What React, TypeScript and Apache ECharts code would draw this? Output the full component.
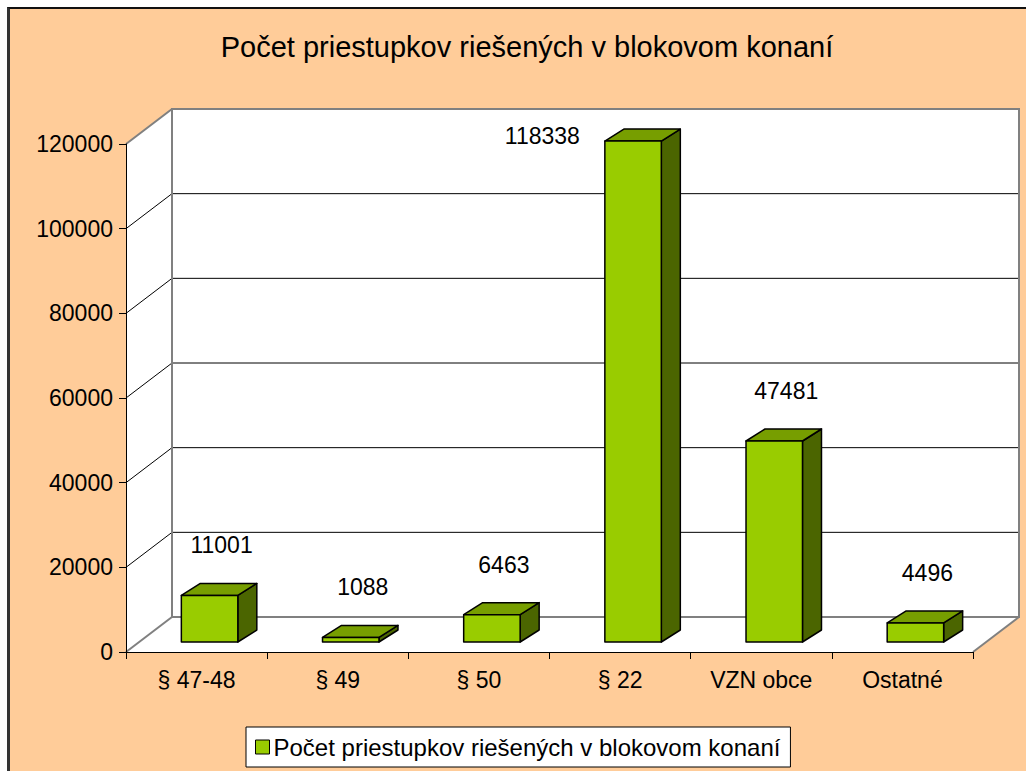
import React, { useEffect, useRef } from "react";
import * as echarts from "echarts";

const categories = ["§ 47-48", "§ 49", "§ 50", "§ 22", "VZN obce", "Ostatné"];
const values = [11001, 1088, 6463, 118338, 47481, 4496];
const yTicks = [0, 20000, 40000, 60000, 80000, 100000, 120000];
const seriesName = "Počet priestupkov riešených v blokovom konaní";
const titleText = "Počet priestupkov riešených v blokovom konaní";

const FONT = "'Liberation Sans', Arial, sans-serif";
// 3D geometry
const WALL_DX = 46;
const WALL_DY = -35;
const BAR_OFF_X = 13;
const BAR_OFF_Y = -10;
const BAR_DX = 19;
const BAR_DY = -12;
const BAR_W = 0.4;
const FRONT = "#99CC00";
const TOP = "#779E00";
const SIDE = "#4B6500";
const GRAY = "#808080";

export default function App() {
  const ref = useRef<HTMLDivElement>(null);
  useEffect(() => {
    if (!ref.current) return;
    const chart = echarts.init(ref.current, null, { renderer: "svg" });
    const yMax = yTicks[yTicks.length - 1];

    const wallsRender = (params: any, api: any) => {
      const cs = params.coordSys;
      const x0 = cs.x;
      const x1 = cs.x + cs.width;
      const yb = api.coord([0, 0])[1];
      const yt = api.coord([0, yMax])[1];
      const children: any[] = [];
      children.push({
        type: "polygon",
        shape: { points: [[x0, yb], [x0, yt], [x0 + WALL_DX, yt + WALL_DY], [x0 + WALL_DX, yb + WALL_DY]] },
        style: { fill: "#fff", stroke: null },
      });
      children.push({
        type: "polygon",
        shape: { points: [[x0, yb], [x1, yb], [x1 + WALL_DX, yb + WALL_DY], [x0 + WALL_DX, yb + WALL_DY]] },
        style: { fill: "#fff", stroke: null },
      });
      children.push({
        type: "rect",
        shape: { x: x0 + WALL_DX, y: yt + WALL_DY, width: x1 - x0, height: yb - yt },
        style: { fill: "#fff", stroke: null },
      });
      yTicks.forEach((t) => {
        if (t === 0 || t === yMax) return;
        const y = api.coord([0, t])[1];
        children.push({
          type: "line",
          shape: { x1: x0 + WALL_DX, y1: y + WALL_DY, x2: x1 + WALL_DX, y2: y + WALL_DY },
          style: { stroke: "#000", lineWidth: 1 },
        });
        children.push({
          type: "line",
          shape: { x1: x0, y1: y, x2: x0 + WALL_DX, y2: y + WALL_DY },
          style: { stroke: "#000", lineWidth: 1 },
        });
      });
      // gray borders
      children.push({
        type: "rect",
        shape: { x: x0 + WALL_DX, y: yt + WALL_DY, width: x1 - x0, height: yb - yt },
        style: { fill: null, stroke: GRAY, lineWidth: 2 },
      });
      children.push({
        type: "line",
        shape: { x1: x0, y1: yt, x2: x0 + WALL_DX, y2: yt + WALL_DY },
        style: { stroke: GRAY, lineWidth: 2 },
      });
      children.push({
        type: "line",
        shape: { x1: x0, y1: yb, x2: x0 + WALL_DX, y2: yb + WALL_DY },
        style: { stroke: GRAY, lineWidth: 2 },
      });
      children.push({
        type: "line",
        shape: { x1: x1, y1: yb, x2: x1 + WALL_DX, y2: yb + WALL_DY },
        style: { stroke: GRAY, lineWidth: 2 },
      });
      return { type: "group", children };
    };

    const barRender = (params: any, api: any) => {
      const idx = api.value(0);
      const v = api.value(1);
      const top = api.coord([idx, v]);
      const base = api.coord([idx, 0]);
      const w = api.size([1, 0])[0] * BAR_W;
      const fx = top[0] - w / 2 + BAR_OFF_X;
      const fyT = top[1] + BAR_OFF_Y;
      const fyB = base[1] + BAR_OFF_Y;
      const wallTop = api.coord([0, yMax])[1] + WALL_DY;
      const lineStyle = { stroke: "#000", lineWidth: 1.5, lineJoin: "round" };
      let label: any;
      const ly = fyT - 50;
      if (ly - 12 < wallTop) {
        label = {
          type: "text",
          style: { text: String(v), x: fx - 25, y: fyT - 5, align: "right", verticalAlign: "middle", fontSize: 23, fontFamily: FONT, fill: "#000" },
        };
      } else {
        label = {
          type: "text",
          style: { text: String(v), x: top[0] + BAR_OFF_X + 12, y: ly, align: "center", verticalAlign: "middle", fontSize: 23, fontFamily: FONT, fill: "#000" },
        };
      }
      return {
        type: "group",
        children: [
          {
            type: "polygon",
            shape: { points: [[fx + w, fyT], [fx + w + BAR_DX, fyT + BAR_DY], [fx + w + BAR_DX, fyB + BAR_DY], [fx + w, fyB]] },
            style: { fill: SIDE, ...lineStyle },
          },
          {
            type: "polygon",
            shape: { points: [[fx, fyT], [fx + w, fyT], [fx + w + BAR_DX, fyT + BAR_DY], [fx + BAR_DX, fyT + BAR_DY]] },
            style: { fill: TOP, ...lineStyle },
          },
          {
            type: "rect",
            shape: { x: fx, y: fyT, width: w, height: fyB - fyT },
            style: { fill: FRONT, ...lineStyle },
          },
          label,
        ],
      };
    };

    chart.setOption({
      animation: false,
      backgroundColor: "transparent",
      textStyle: { fontFamily: FONT },
      graphic: [
        {
          type: "text",
          x: 527,
          y: 47,
          style: { text: titleText, align: "center", verticalAlign: "middle", fontSize: 29, fontFamily: FONT, fill: "#000" },
        },
      ],
      legend: {
        data: [seriesName],
        left: 246,
        top: 727,
        backgroundColor: "#fff",
        borderColor: "#000",
        borderWidth: 1,
        padding: [8, 10, 8, 9],
        icon: "rect",
        itemWidth: 14,
        itemHeight: 14,
        itemGap: 6,
        itemStyle: { color: FRONT, borderColor: "#000", borderWidth: 1 },
        textStyle: { fontSize: 24, color: "#000", fontFamily: FONT, padding: [0, 0, 0, -1] },
        selectedMode: false,
      },
      grid: { left: 126, top: 144, width: 847, height: 508, containLabel: false },
      xAxis: {
        type: "category",
        data: categories,
        z: 10,
        axisLine: { show: true, lineStyle: { color: "#000", width: 1 } },
        axisTick: { show: true, length: 7, lineStyle: { color: "#000" } },
        axisLabel: { fontSize: 23, color: "#000", margin: 16, fontFamily: FONT },
        splitLine: { show: false },
      },
      yAxis: {
        type: "value",
        min: 0,
        max: 120000,
        interval: 20000,
        z: 10,
        axisLine: { show: true, lineStyle: { color: "#000", width: 1 } },
        axisTick: { show: true, length: 7, lineStyle: { color: "#000" } },
        axisLabel: { fontSize: 23, color: "#000", margin: 13, fontFamily: FONT, formatter: (v: number) => String(v) },
        splitLine: { show: false },
      },
      series: [
        {
          type: "custom",
          name: "walls",
          z: 1,
          silent: true,
          renderItem: wallsRender,
          data: [[0, 0]],
          encode: { x: 0, y: 1 },
        },
        {
          type: "custom",
          name: seriesName,
          z: 3,
          renderItem: barRender,
          itemStyle: { color: FRONT, borderColor: "#000", borderWidth: 1 },
          data: values.map((v, i) => [i, v]),
          encode: { x: 0, y: 1 },
        },
      ],
    });
    return () => chart.dispose();
  }, []);

  return (
    <div style={{ position: "fixed", left: 0, top: 0, width: 1026, height: 771, overflow: "hidden", background: "#fff" }}>
      <div
        style={{
          position: "absolute",
          left: 7,
          top: 7,
          width: 1016,
          height: 800,
          background: "#FFCC99",
          borderTop: "2px solid #111",
          borderLeft: "3px solid #333",
        }}
      />
      <div ref={ref} style={{ position: "absolute", left: 0, top: 0, width: 1026, height: 771 }} />
    </div>
  );
}
